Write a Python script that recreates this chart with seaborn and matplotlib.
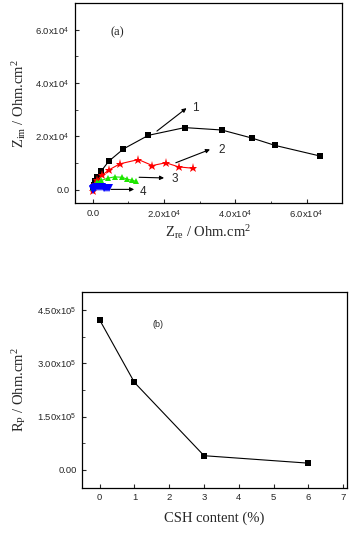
import numpy as np
import pandas as pd
import matplotlib
matplotlib.use("Agg")
import matplotlib.pyplot as plt
import seaborn as sns
from matplotlib.ticker import MultipleLocator, FuncFormatter

sns.set_style("ticks")
plt.rcParams['font.family'] = ['Liberation Sans', 'DejaVu Sans']
plt.rcParams['mathtext.fontset'] = 'custom'
plt.rcParams['mathtext.rm'] = 'Liberation Serif'
plt.rcParams['mathtext.it'] = 'Liberation Serif:italic'
plt.rcParams['mathtext.sf'] = 'Liberation Sans'

# ---- Panel (a): Nyquist data ----
s1_zre = [0, 200, 560, 1100, 2350, 4500, 8600, 15600, 25800, 36200, 44600, 51200, 63900]
s1_zim = [600, 1900, 3100, 4800, 7000, 10700, 15300, 20400, 23300, 22400, 19400, 16600, 12600]

s2_zre = [0, 560, 1300, 2600, 4500, 7600, 12800, 16700, 20500, 24100, 28000]
s2_zim = [-500, 2100, 3800, 5400, 7400, 9700, 11300, 9060, 10100, 8550, 8050]

s3_zre = [100, 560, 1200, 2400, 4200, 6100, 8200, 9700, 11100, 12200]
s3_zim = [500, 1800, 2800, 3500, 4300, 4800, 4650, 3900, 3500, 3100]

s4_zre = [0, 100, 300, 600, 1000, 1500, 2000, 2500, 3000, 3500, 4000, 4500]
s4_zim = [0, 300, 600, 800, 900, 1000, 1000, 900, 800, 800, 700, 600]

# ---- Panel (b): Rp vs CSH content ----
csh = [0, 1, 3, 6]
rp = [4.22e5, 2.46e5, 0.40e5, 0.19e5]

fig = plt.figure(figsize=(3.59, 5.35), dpi=100)
ax1 = fig.add_axes([0.209, 0.6206, 0.744, 0.3734])
ax2 = fig.add_axes([0.229, 0.0884, 0.737, 0.3656])

lw = 0.8
sns.lineplot(x=s1_zre, y=s1_zim, sort=False, ax=ax1, color='black', marker='s',
             markersize=3.8, markeredgewidth=0, linewidth=lw)
sns.lineplot(x=s2_zre, y=s2_zim, sort=False, ax=ax1, color='red', marker='*',
             markersize=6.5, markeredgewidth=0, linewidth=lw)
sns.lineplot(x=s3_zre, y=s3_zim, sort=False, ax=ax1, color='#1ee600', marker='^',
             markersize=5, markeredgewidth=0, linewidth=lw)
sns.lineplot(x=s4_zre, y=s4_zim, sort=False, ax=ax1, color='blue', marker='v',
             markersize=5.5, markeredgewidth=0, linewidth=1.2)

ax1.set_xlim(-5000, 70000)
ax1.set_ylim(-5000, 70000)

def sci_fmt(val, pos, dec=1, exp=4):
    if abs(val) < 1e-9:
        return "0." + "0" * dec
    m = val / 10**exp
    return (f"{m:.{dec}f}x10$^{{\\mathsf{{{exp}}}}}$")

ax1.xaxis.set_major_locator(MultipleLocator(20000))
ax1.xaxis.set_minor_locator(MultipleLocator(10000))
ax1.yaxis.set_major_locator(MultipleLocator(20000))
ax1.yaxis.set_minor_locator(MultipleLocator(10000))
ax1.xaxis.set_major_formatter(FuncFormatter(lambda v, p: sci_fmt(v, p, 1, 4)))
ax1.yaxis.set_major_formatter(FuncFormatter(lambda v, p: sci_fmt(v, p, 1, 4)))

arrowkw = dict(arrowstyle='-|>', color='black', lw=0.8, mutation_scale=6, shrinkA=0, shrinkB=0)
ann = [("1", (18000, 22000), (26300, 30600), (27900, 30800)),
       ("2", (23300, 10100), (32900, 15100), (35200, 14800)),
       ("3", (13000, 4650), (20000, 4400), (22000, 4000)),
       ("4", (5100, 100), (11600, 100), (13200, -700))]
for lab, start, end, tpos in ann:
    ax1.annotate("", xy=end, xytext=start, arrowprops=arrowkw)
    ax1.text(tpos[0], tpos[1], lab, fontsize=8.5, va='center', ha='left')

ax1.text(5000, 59000, "(a)", fontsize=9, family='Liberation Serif', va='center', ha='left')
ax1.set_xlabel(r"Z$_{\rm re}$ / Ohm.cm$^2$", fontsize=10.5, family='Liberation Serif', labelpad=1)
ax1.set_ylabel(r"Z$_{\rm im}$ / Ohm.cm$^2$", fontsize=10.5, family='Liberation Serif', labelpad=5)

# Panel b
sns.lineplot(x=csh, y=rp, ax=ax2, color='black', marker='s', markersize=3.8,
             markeredgewidth=0, linewidth=lw)
ax2.set_xlim(-0.5, 7.1)
ax2.set_ylim(-50000, 500000)
ax2.xaxis.set_major_locator(MultipleLocator(1))
ax2.yaxis.set_major_locator(MultipleLocator(150000))
ax2.yaxis.set_minor_locator(MultipleLocator(75000))
ax2.yaxis.set_major_formatter(FuncFormatter(lambda v, p: sci_fmt(v, p, 2, 5)))
ax2.text(1.68, 4.08e5, "(b)", fontsize=6.5, va='center', ha='center')
ax2.set_xlabel("CSH content (%)", fontsize=10.5, family='Liberation Serif', labelpad=7)
ax2.set_ylabel(r"R$_{\rm P}$ / Ohm.cm$^2$", fontsize=10.5, family='Liberation Serif', labelpad=7)

for ax in (ax1, ax2):
    for sp in ax.spines.values():
        sp.set_visible(True)
        sp.set_linewidth(0.9)
        sp.set_color('black')
    ax.tick_params(which='major', direction='in', length=3, width=0.8, labelsize=6.8,
                   top=False, right=False, pad=4)
    ax.tick_params(which='minor', direction='in', length=1.8, width=0.6,
                   top=False, right=False)

fig.savefig("out.png", dpi=100)
